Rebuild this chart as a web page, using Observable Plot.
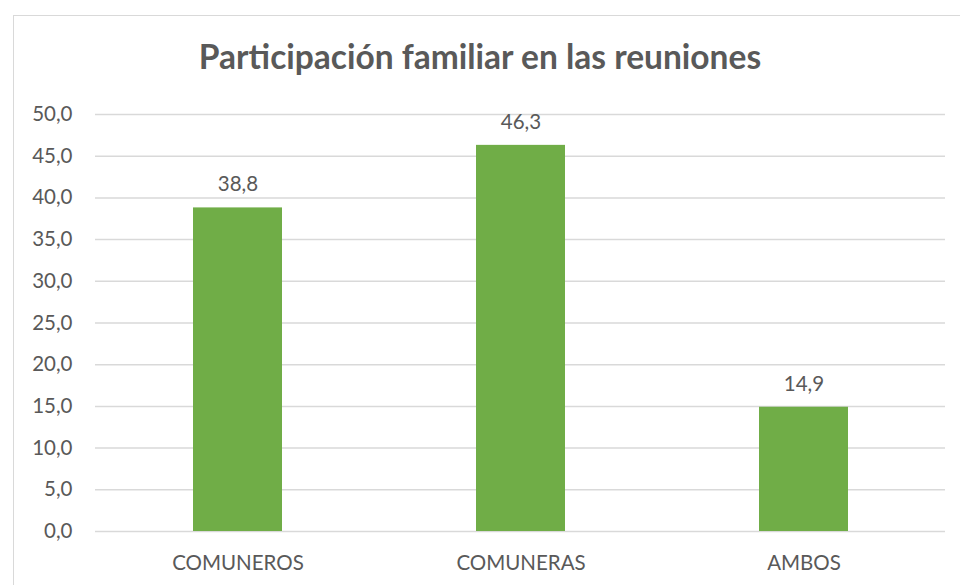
<!DOCTYPE html>
<html><head><meta charset="utf-8">
<script src="https://cdn.jsdelivr.net/npm/d3@7"></script>
<script src="https://cdn.jsdelivr.net/npm/@observablehq/plot@0.6"></script>
<style>
body{margin:0;background:#fff;font-family:Lato,sans-serif;}
#wrap{position:relative;width:960px;height:585px;overflow:hidden;}
#frame{position:absolute;left:13px;top:15px;width:1000px;height:1000px;border:1.5px solid #d9d9d9;box-sizing:border-box;}
#title{position:absolute;left:0;width:960px;top:40px;text-align:center;font-weight:bold;font-size:33.5px;line-height:1;color:#595959;white-space:nowrap;}
#chart{position:absolute;left:0;top:0;}
</style></head>
<body>
<div id="wrap"><div id="frame"></div><div id="title">Participación familiar en las reuniones</div><div id="chart"></div></div>
<script>
const categories = ["COMUNEROS", "COMUNERAS", "AMBOS"];
const values = [38.8, 46.3, 14.9];
const yTicks = [0, 5, 10, 15, 20, 25, 30, 35, 40, 45, 50];
const data = categories.map((c, i) => ({cat: c, v: values[i]}));
const fmt = d => d.toFixed(1).replace(".", ",");

const chart = Plot.plot({
  width: 960, height: 585,
  marginLeft: 95, marginRight: 15, marginTop: 114, marginBottom: 54,
  style: {fontFamily: "Lato, sans-serif", fontSize: "20.5px", color: "#595959", background: "transparent"},
  x: {domain: categories, paddingInner: 0.686, paddingOuter: 0.343, label: null, tickSize: 0, tickPadding: 24},
  y: {domain: [0, 50], ticks: yTicks, tickFormat: fmt, label: null, tickSize: 0, tickPadding: 23},
  marks: [
    Plot.ruleY(yTicks, {stroke: "#d9d9d9", strokeWidth: 1.5}),
    Plot.barY(data, {x: "cat", y: "v", fill: "#70ad47"}),
    Plot.text(data, {x: "cat", y: "v", text: d => fmt(d.v), dy: -23, fill: "#595959", fontSize: 20.5})
  ]
});
document.getElementById("chart").appendChild(chart);
</script>
</body></html>
